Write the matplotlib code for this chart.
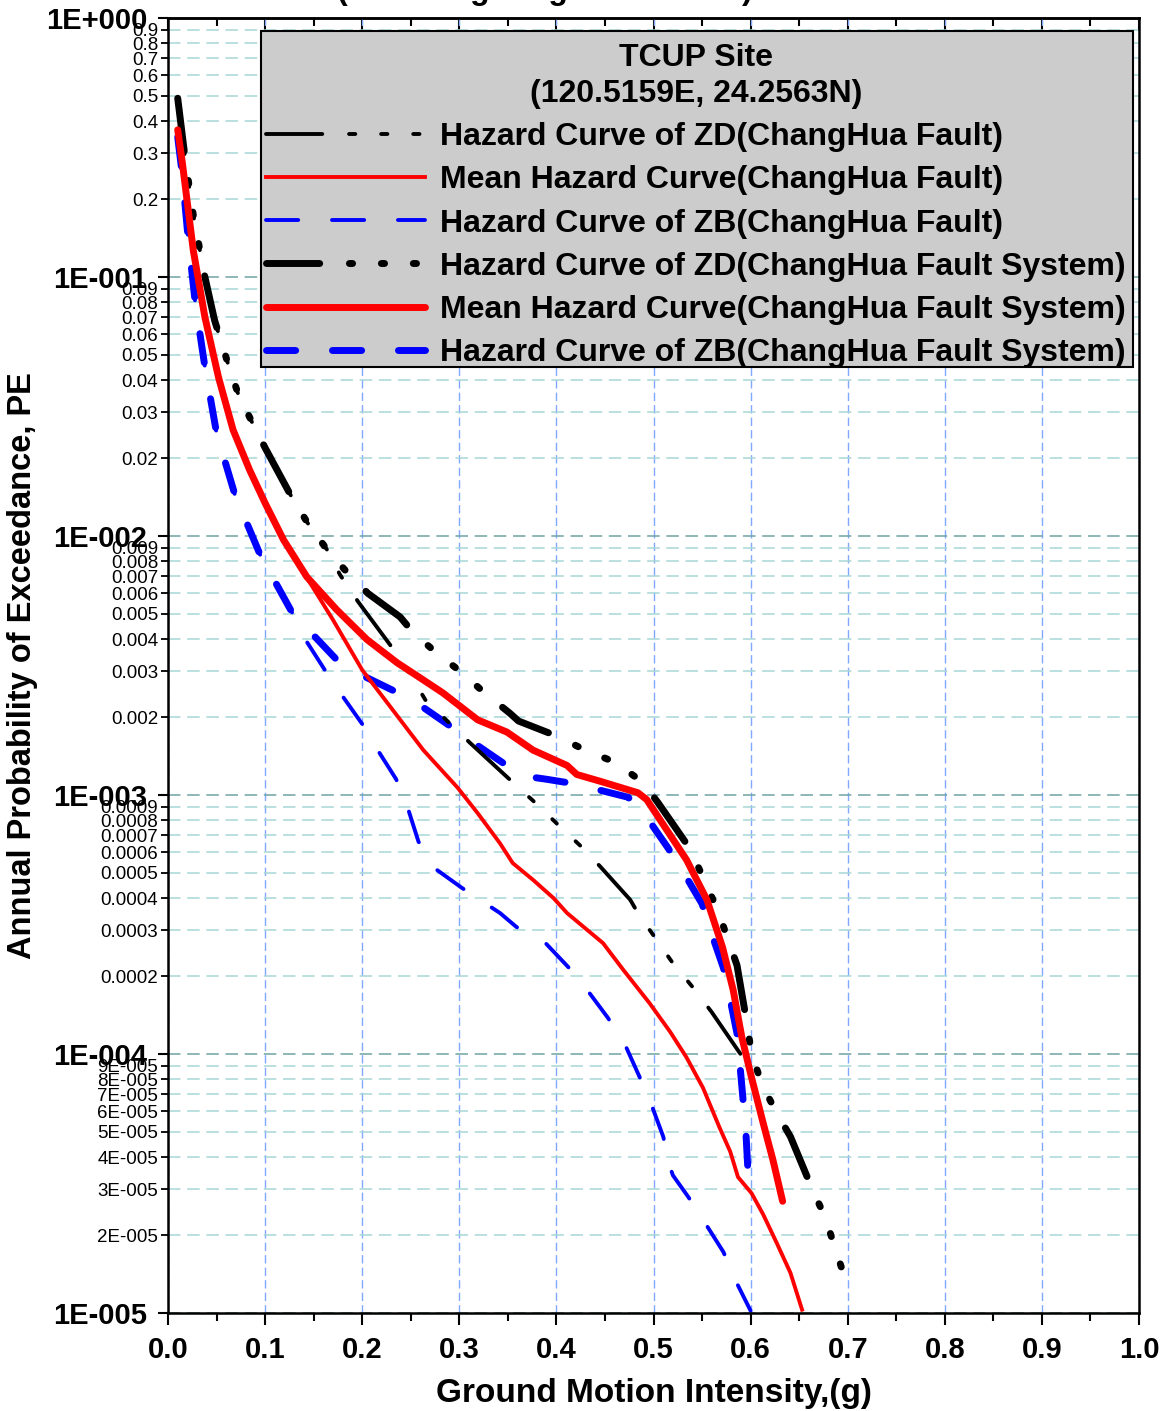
import matplotlib
matplotlib.use("Agg")
import matplotlib.pyplot as plt
from matplotlib.patches import Rectangle
from matplotlib.ticker import MultipleLocator

plt.rcParams['font.family'] = ['Liberation Sans', 'DejaVu Sans']
plt.rcParams['lines.scale_dashes'] = False

# ZD hazard curve, ChangHua Fault (thin black)
x_zd_fault = [0.010, 0.0175, 0.026, 0.038, 0.048, 0.062, 0.072, 0.088, 0.100, 0.128, 0.144,
              0.164, 0.177, 0.196, 0.231, 0.249, 0.265, 0.311, 0.355, 0.376, 0.402, 0.426,
              0.445, 0.476, 0.484, 0.500, 0.520, 0.541, 0.560, 0.592]
p_zd_fault = [0.49, 0.29, 0.174, 0.100, 0.068, 0.046, 0.0356, 0.0268, 0.0219, 0.0140, 0.0112,
              0.00883, 0.0071, 0.00556, 0.0037, 0.00295, 0.00233, 0.00159, 0.00112, 0.00095,
              0.000766, 0.00063, 0.00053, 0.000394, 0.00035, 0.000287, 0.000224, 0.00018,
              0.000145, 9.7e-5]

# mean hazard curve, ChangHua Fault (thin red)
x_mean_fault = [0.010, 0.0144, 0.026, 0.038, 0.052, 0.067, 0.084, 0.100, 0.119, 0.143, 0.170,
                0.200, 0.229, 0.263, 0.298, 0.319, 0.342, 0.355, 0.376, 0.397, 0.411, 0.448,
                0.469, 0.496, 0.517, 0.534, 0.551, 0.568, 0.579, 0.587, 0.601, 0.613, 0.627,
                0.641, 0.653]
p_mean_fault = [0.37, 0.283, 0.127, 0.070, 0.041, 0.0257, 0.018, 0.0134, 0.00966, 0.0069,
                0.00474, 0.00304, 0.00219, 0.00149, 0.00107, 0.00085, 0.00065, 0.000546,
                0.00047, 0.0004, 0.00035, 0.000268, 0.000211, 0.000157, 0.000122, 9.7e-5,
                7.4e-5, 5.2e-5, 4.2e-5, 3.35e-5, 2.9e-5, 2.4e-5, 1.86e-5, 1.43e-5, 1.03e-5]

# ZB hazard curve, ChangHua Fault (thin blue)
x_zb_fault = [0.010, 0.0144, 0.0206, 0.028, 0.038, 0.050, 0.069, 0.095, 0.128, 0.143, 0.161,
              0.179, 0.200, 0.216, 0.235, 0.247, 0.258, 0.275, 0.303, 0.342, 0.359, 0.388,
              0.412, 0.433, 0.453, 0.471, 0.486, 0.498, 0.510, 0.517, 0.520, 0.536, 0.553,
              0.572, 0.586, 0.600]
p_zb_fault = [0.347, 0.254, 0.143, 0.080, 0.045, 0.025, 0.0144, 0.00845, 0.00505, 0.0039,
              0.00306, 0.00243, 0.00188, 0.00149, 0.00115, 0.00089, 0.00066, 0.00052,
              0.000437, 0.00035, 0.000309, 0.00027, 0.000217, 0.000174, 0.000138, 0.000108,
              8.1e-5, 6.35e-5, 4.8e-5, 3.66e-5, 3.4e-5, 2.8e-5, 2.23e-5, 1.72e-5, 1.3e-5, 1.02e-5]

# ZD hazard curve, ChangHua Fault System (thick black)
x_zd_sys = [0.010, 0.0175, 0.026, 0.038, 0.048, 0.062, 0.072, 0.088, 0.100, 0.128, 0.144,
            0.164, 0.185, 0.206, 0.239, 0.252, 0.273, 0.301, 0.326, 0.352, 0.361, 0.402,
            0.428, 0.460, 0.489, 0.505, 0.538, 0.551, 0.566, 0.577, 0.586, 0.596, 0.601,
            0.612, 0.627, 0.641, 0.663, 0.677, 0.687, 0.699]
p_zd_sys = [0.49, 0.29, 0.174, 0.100, 0.068, 0.046, 0.0356, 0.0268, 0.0219, 0.0140, 0.0112,
            0.00883, 0.0072, 0.0060, 0.00487, 0.00426, 0.00363, 0.0030, 0.00248, 0.00207,
            0.00193, 0.00168, 0.00150, 0.00134, 0.00112, 0.00093, 0.000617, 0.00048, 0.00036,
            0.000275, 0.00022, 0.000133, 0.0001, 7.6e-5, 5.9e-5, 4.8e-5, 3.04e-5, 2.33e-5,
            1.78e-5, 1.3e-5]

# mean hazard curve, ChangHua Fault System (thick red)
x_mean_sys = [0.010, 0.0144, 0.026, 0.038, 0.052, 0.067, 0.084, 0.100, 0.119, 0.143, 0.174,
              0.205, 0.236, 0.263, 0.283, 0.319, 0.349, 0.376, 0.411, 0.421, 0.445, 0.484,
              0.493, 0.514, 0.534, 0.555, 0.571, 0.582, 0.591, 0.601, 0.613, 0.623, 0.633]
p_mean_sys = [0.37, 0.283, 0.127, 0.070, 0.041, 0.0257, 0.018, 0.0134, 0.00966, 0.00695,
              0.00518, 0.00398, 0.00324, 0.00278, 0.00248, 0.00195, 0.00175, 0.00149, 0.0013,
              0.0012, 0.00113, 0.00102, 0.00096, 0.00073, 0.000562, 0.000394, 0.000259,
              0.000177, 0.000116, 8.1e-5, 5.4e-5, 3.9e-5, 2.7e-5]

# ZB hazard curve, ChangHua Fault System (thick blue)
x_zb_sys = [0.010, 0.0144, 0.0206, 0.028, 0.038, 0.050, 0.069, 0.095, 0.128, 0.174, 0.203,
            0.234, 0.262, 0.292, 0.318, 0.345, 0.376, 0.390, 0.409, 0.442, 0.474, 0.496,
            0.515, 0.534, 0.550, 0.561, 0.572, 0.579, 0.586, 0.589, 0.592, 0.595, 0.597, 0.600]
p_zb_sys = [0.347, 0.254, 0.143, 0.080, 0.045, 0.025, 0.0144, 0.00845, 0.00505, 0.00332,
            0.00286, 0.00251, 0.00219, 0.00183, 0.00156, 0.00133, 0.00117, 0.00115, 0.00112,
            0.00105, 0.00098, 0.00079, 0.000624, 0.00048, 0.00038, 0.000283, 0.000215,
            0.000162, 0.00012, 9.1e-5, 6.8e-5, 5.1e-5, 3.7e-5, 2.8e-5]

labels = ["Hazard Curve of ZD(ChangHua Fault)",
          "Mean Hazard Curve(ChangHua Fault)",
          "Hazard Curve of ZB(ChangHua Fault)",
          "Hazard Curve of ZD(ChangHua Fault System)",
          "Mean Hazard Curve(ChangHua Fault System)",
          "Hazard Curve of ZB(ChangHua Fault System)"]

x_ticks = [0.0, 0.1, 0.2, 0.3, 0.4, 0.5, 0.6, 0.7, 0.8, 0.9, 1.0]
x_ticklabels = ["0.0", "0.1", "0.2", "0.3", "0.4", "0.5", "0.6", "0.7", "0.8", "0.9", "1.0"]
y_major = [1e-5, 1e-4, 1e-3, 1e-2, 1e-1, 1.0]
y_major_labels = ["1E-005", "1E-004", "1E-003", "1E-002", "1E-001", "1E+000"]
y_minor = []
y_minor_labels = []
for e in range(-5, 0):
    for m in range(2, 10):
        y_minor.append(m * 10.0 ** e)
        if e == -5:
            y_minor_labels.append("%dE-005" % m)
        else:
            y_minor_labels.append("%.*f" % (-e, m * 10.0 ** e))

# dash patterns (points), round caps
zd_thin = (0, (40.5, 19.3, 4.5, 18.6, 4.5, 18.6, 4.5, 19.3))
zd_thick = (0, (38.3, 21.4, 2.3, 20.7, 2.3, 20.7, 2.3, 21.4))
zb_thin = (0, (23.2, 24.3))
zb_thick = (0, (21.0, 26.5))

fig = plt.figure(figsize=(11.7, 14.11), dpi=100)
ax = fig.add_axes([168 / 1170, 1 - 1313 / 1411, 971 / 1170, 1295 / 1411])
ax.set_yscale('log')

thin = 2.8
thick = 5.0
h1, = ax.plot(x_zd_fault, p_zd_fault, color='black', lw=thin, ls=zd_thin,
              dash_capstyle='round', zorder=3, label=labels[0])
h2, = ax.plot(x_mean_fault, p_mean_fault, color='red', lw=thin, zorder=4, label=labels[1])
h3, = ax.plot(x_zb_fault, p_zb_fault, color='blue', lw=thin, ls=zb_thin,
              dash_capstyle='round', zorder=2, label=labels[2])
h4, = ax.plot(x_zd_sys, p_zd_sys, color='black', lw=thick, ls=zd_thick,
              dash_capstyle='round', zorder=3, label=labels[3])
h5, = ax.plot(x_mean_sys, p_mean_sys, color='red', lw=thick, solid_capstyle='round',
              zorder=4, label=labels[4])
h6, = ax.plot(x_zb_sys, p_zb_sys, color='blue', lw=thick, ls=zb_thick,
              dash_capstyle='round', zorder=2, label=labels[5])

ax.set_xlim(0, 1)
ax.set_ylim(1e-5, 1)

ax.set_xticks(x_ticks, labels=x_ticklabels, fontweight='bold', fontsize=21)
ax.xaxis.set_minor_locator(MultipleLocator(0.05))
ax.set_yticks(y_major, labels=y_major_labels, fontweight='bold', fontsize=21)
ax.set_yticks(y_minor, labels=y_minor_labels, minor=True, fontsize=13.5)

ax.tick_params(axis='x', which='major', direction='out', length=8.4, width=1.5, pad=8)
ax.tick_params(axis='x', which='minor', direction='out', length=6, width=1.5)
ax.tick_params(axis='y', which='major', direction='out', length=7, width=1.5, pad=8)
ax.tick_params(axis='y', which='minor', direction='out', length=5, width=1.3, pad=2)

top = ax.secondary_xaxis('top')
top.set_xticks(x_ticks, labels=[])
top.xaxis.set_minor_locator(MultipleLocator(0.05))
top.tick_params(which='major', direction='in', length=9, width=1.5)
top.tick_params(which='minor', direction='in', length=6, width=1.5)

for s in ax.spines.values():
    s.set_linewidth(1.8)
top.spines['top'].set_linewidth(1.8)

ax.set_axisbelow(True)
ax.yaxis.grid(True, which='major', color='#6fa3a3', ls=(0, (9, 4.8)), lw=1.1)
ax.yaxis.grid(True, which='minor', color='#a8d6d6', ls=(0, (9, 4.8)), lw=1.1)
ax.xaxis.grid(True, which='major', color='#80a8ff', ls=(0, (6, 3)), lw=1.0)

ax.set_xlabel("Ground Motion Intensity,(g)", fontsize=24, fontweight='bold')
ax.xaxis.set_label_coords(0.5, -0.05)
ax.set_ylabel("Annual Probability of Exceedance, PE", fontsize=23.5, fontweight='bold')
ax.yaxis.set_label_coords(-0.134, 0.5)

# grey legend box drawn at the original's place, legend contents on top
box = Rectangle((261 / 1170, 1 - 367 / 1411), 872 / 1170, 336 / 1411,
                transform=fig.transFigure, facecolor='#cccccc', edgecolor='black',
                lw=1.5, zorder=9)
ax.add_patch(box)

leg = ax.legend(handles=[h1, h2, h3, h4, h5, h6],
                title="TCUP Site\n(120.5159E, 24.2563N)",
                title_fontproperties={'weight': 'bold', 'size': 23},
                prop={'weight': 'bold', 'size': 23},
                loc='upper right', bbox_to_anchor=(1126 / 1170, 1 - 43 / 1411),
                bbox_transform=fig.transFigure, borderaxespad=0,
                handlelength=5, handletextpad=0.47, borderpad=0, labelspacing=0.41,
                frameon=False)
leg.get_title().set_multialignment('center')
leg.get_title().set_linespacing(1.27)
leg.set_zorder(10)

# title, mostly cut off by the top edge in the original
fig.text(545 / 1170, 1 + 1 / 1411, "(Including Neighbor Faults)", ha='center',
         va='baseline', fontsize=23, fontweight='bold')

fig.savefig("out.png", dpi=100)
